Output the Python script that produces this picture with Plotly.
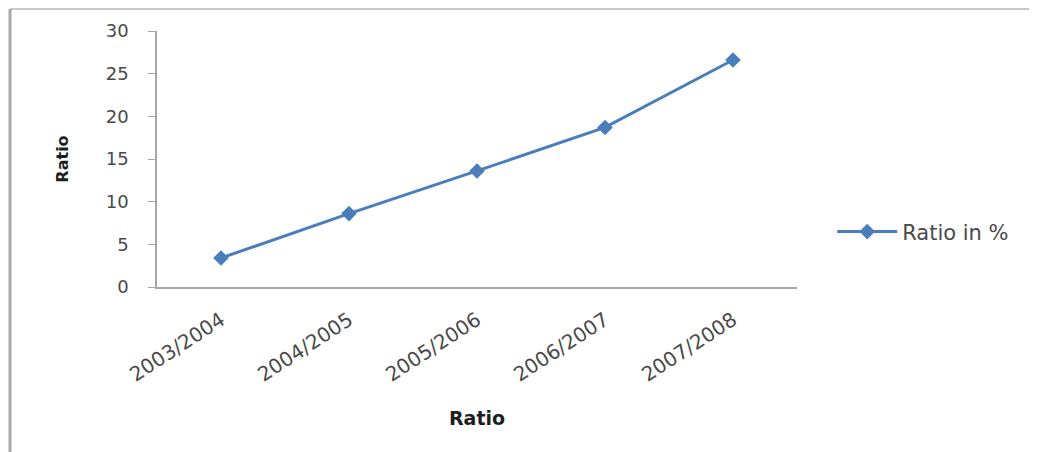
import plotly.graph_objects as go

categories = ["2003/2004", "2004/2005", "2005/2006", "2006/2007", "2007/2008"]
ratio_pct = [3.4, 8.6, 13.6, 18.7, 26.6]
series_name = "Ratio in %"
y_ticks = [0, 5, 10, 15, 20, 25, 30]

font_family = "'DejaVu Sans', sans-serif"
text_color = "#4a4a4a"
title_color = "#1e1e1e"
line_color = "#4A7EBB"
axis_color = "#A6A6A6"

# page is offset by the 8px body margin, so the figure is drawn 8px smaller
L, T, PW, PH = 149, 23, 640, 256
W, H = 1029, 444
B = H - T - PH

fig = go.Figure()
fig.add_trace(go.Scatter(
    x=categories, y=ratio_pct, name=series_name, mode="lines+markers",
    line=dict(color=line_color, width=3),
    marker=dict(symbol="diamond", size=12, color=line_color),
))

fig.update_layout(
    width=W, height=H,
    margin=dict(l=L, r=W - L - PW, t=T, b=B),
    paper_bgcolor="white", plot_bgcolor="white",
    font=dict(family=font_family, color=text_color, size=17),
    showlegend=True,
    legend=dict(x=1.055, y=0.215, xanchor="left", yanchor="middle",
                font=dict(size=21, color=text_color), bgcolor="rgba(0,0,0,0)",
                itemwidth=60),
    xaxis=dict(
        type="category", range=[-0.5, 4.5], showgrid=False,
        showline=True, linecolor=axis_color, linewidth=1.5,
        ticks="", tickangle=-33, tickfont=dict(size=20, color=text_color),
        ticklabelstandoff=12,
        title=dict(text="<b>Ratio</b>", font=dict(size=19, color=title_color), standoff=26),
        automargin=False,
    ),
    yaxis=dict(
        range=[0, 30], tickvals=y_ticks, showgrid=False, zeroline=False,
        showline=True, linecolor=axis_color, linewidth=1.5,
        ticks="outside", ticklen=7, tickcolor=axis_color,
        tickfont=dict(size=18, color=text_color), ticklabelstandoff=16,
        title=dict(text="<b>Ratio</b>", font=dict(size=16, color=title_color), standoff=33),
        automargin=False,
    ),
    shapes=[
        dict(type="line", xref="paper", yref="paper",
             x0=-(L - 2) / PW, x1=(W - L) / PW, y0=1 + (T - 1) / PH, y1=1 + (T - 1) / PH,
             line=dict(color="#C8C8C8", width=2)),
        dict(type="line", xref="paper", yref="paper",
             x0=-(L - 2) / PW, x1=-(L - 2) / PW, y0=1 + (T - 1) / PH, y1=-B / PH,
             line=dict(color="#A8A8A8", width=3)),
    ],
)

fig.write_html("out.html")
